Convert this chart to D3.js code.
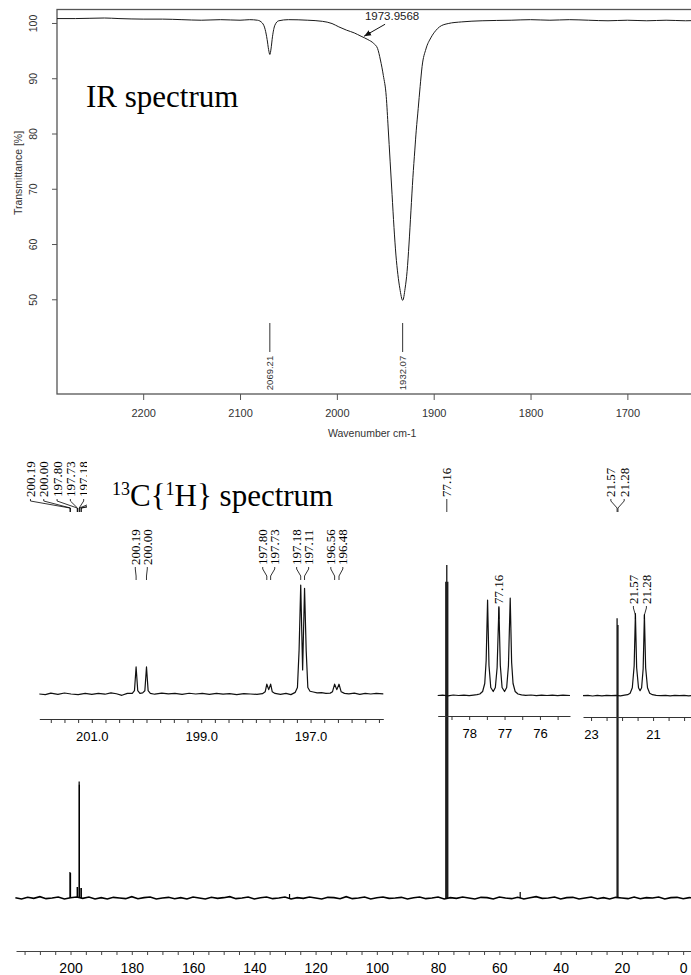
<!DOCTYPE html>
<html>
<head>
<meta charset="utf-8">
<script src="https://cdn.jsdelivr.net/npm/d3@7"></script>
<style>
body { margin: 0; background: #fff; }
svg { display: block; }
.serif { font-family: 'Liberation Serif', 'Times New Roman', serif; }
.sans { font-family: 'Liberation Sans', Arial, sans-serif; }
</style>
</head>
<body>
<svg id="chart" width="691" height="975"></svg>
<script>
// ---- IR data: [wavenumber, transmittance %] ----
let irPoints = [
    [2289, 100.8], [2270, 100.8], [2240, 100.9], [2225, 100.8], [2200, 100.7],
    [2180, 100.7], [2160, 100.6], [2140, 100.5], [2120, 100.6], [2100, 100.5],
    [2090, 100.6], [2082, 100.5], [2077, 100.0], [2074, 98.8], [2072, 97.0],
    [2070.5, 95.2], [2069.2, 94.3], [2068, 95.3], [2066.5, 97.5], [2064, 99.6],
    [2060, 100.4], [2050, 100.6], [2030, 100.5], [2015, 100.3], [2005, 99.9],
    [1998, 99.3], [1990, 98.7], [1982, 98.2], [1975, 97.6], [1968, 97.0],
    [1962, 96.3], [1958, 95.4], [1955, 93.3], [1952, 90.5], [1949, 86.7],
    [1947, 81], [1945, 75], [1943, 69], [1941, 63], [1939, 58],
    [1937, 54.5], [1935, 52], [1932, 49.8], [1929.5, 52], [1927.5, 55],
    [1925.5, 60], [1923.5, 66], [1921.5, 72], [1919.5, 77], [1918, 80.6],
    [1916, 84.5], [1914, 88.5], [1912, 92.1], [1908, 95.3], [1903, 97.3],
    [1898, 98.6], [1894, 99.3], [1885, 99.9], [1871, 100.2], [1850, 100.4],
    [1820, 100.5], [1800, 100.6], [1780, 100.5], [1760, 100.6], [1740, 100.5],
    [1720, 100.4], [1700, 100.5], [1680, 100.4], [1660, 100.5], [1640, 100.4],
    [1625, 100.5]
];
let irTicksX = [2200, 2100, 2000, 1900, 1800, 1700];
let irTicksY = [100, 90, 80, 70, 60, 50];
let irPeakLabels = [2069.21, 1932.07];
let irShoulder = [1973.9568, 97.6];

// ---- 13C main spectrum ----
let mainNoiseStart = 218;
let mainNoiseStep = 2;
let mainNoise = [
    0.1, -0.3, 0.2, -0.1, 0.4, -0.2, 0.0, 0.3, -0.3, 0.1,
    0.3, -0.1, 0.3, -0.3, 0.1, -0.3, 0.2, 0.0, -0.2, 0.4,
    -0.2, 0.1, 0.3, -0.3, 0.0, 0.2, -0.2, 0.1, -0.3, 0.3,
    0.0, -0.3, 0.2, -0.1, 0.1, 0.4, -0.2, 0.0, 0.3, -0.3,
    0.1, 0.3, -0.2, 0.0, 0.3, -0.3, 0.1, -0.1, 0.3, 0.0,
    -0.3, 0.2, 0.1, -0.2, 0.4, -0.2, 0.0, 0.3, -0.3, 0.1,
    0.3, -0.1, 0.0, 0.2, -0.3, 0.1, 0.3, -0.2, 0.0, 0.3,
    -0.3, 0.1, -0.1, 0.3, 0.0, -0.3, 0.2, 0.1, -0.3, 0.3,
    0.0, -0.2, 0.2, -0.3, 0.1, 0.4, -0.1, 0.0, 0.3, -0.3,
    0.1, 0.2, -0.3, 0.0, 0.3, -0.2, 0.1, -0.3, 0.2, 0.0,
    -0.2, 0.3, -0.2, 0.1, 0.0, 0.3, -0.3, 0.1, 0.2, -0.2,
    0.1, 0.0
];
// [ppm, intensity] sticks
let mainPeaks = [
    [200.19, 7.8], [200.00, 7.5], [197.80, 3.3], [197.73, 3.3],
    [197.18, 35], [197.11, 34], [196.56, 3], [196.48, 3],
    [128.5, 1.2], [77.48, 95], [77.16, 100], [76.84, 95],
    [53.2, 1.8], [21.57, 84], [21.28, 82]
];
let mainTickLabels = [200, 180, 160, 140, 120, 100, 80, 60, 40, 20, 0];
let mainLabelsLeft = [200.19, 200.00, 197.80, 197.73, 197.18, 197.11, 196.56, 196.48];
let mainLabelsMid = [77.16];
let mainLabelsRight = [21.57, 21.28];

// ---- inset 1 (carbonyl region) ----
let inset1Points = [
    [201.96, 0], [201.85, -0.5], [201.75, 0.8], [201.62, -0.3], [201.5, 0.9],
    [201.38, 0], [201.25, -0.6], [201.12, 0.5], [201.0, -0.4], [200.88, 0.6],
    [200.76, -0.2], [200.65, 1.0], [200.55, 0.2], [200.45, -1.2], [200.35, 0.6],
    [200.26, 0.5], [200.22, 3], [200.19, 24.8], [200.16, 3], [200.12, 0.6],
    [200.07, 1], [200.03, 3], [200.0, 24.8], [199.97, 3], [199.93, 0.5],
    [199.85, -0.2], [199.72, 0.8], [199.6, 0.2], [199.48, 0.6], [199.35, -0.3],
    [199.22, 0.7], [199.1, 0], [198.98, 0.5], [198.85, -0.4], [198.72, 0.6],
    [198.6, -0.2], [198.48, 0.3], [198.35, -0.5], [198.22, 0.4], [198.1, 0],
    [197.98, -0.3], [197.88, 0.3], [197.83, 2], [197.8, 9], [197.765, 4],
    [197.73, 9], [197.7, 2], [197.65, 0.5], [197.55, -0.3], [197.45, 0.6],
    [197.36, -0.6], [197.28, 1.5], [197.24, 6], [197.21, 40], [197.18, 100],
    [197.145, 22], [197.11, 97], [197.08, 40], [197.05, 6], [197.01, 2.5],
    [196.95, 1.8], [196.88, 1.0], [196.8, 1.3], [196.72, 0.6], [196.64, 0.8],
    [196.6, 2], [196.56, 9], [196.52, 4], [196.48, 9], [196.44, 2],
    [196.38, 0.6], [196.3, 0.2], [196.2, 0.8], [196.1, -0.3], [196.0, 0.6],
    [195.9, 0], [195.8, 0.5], [195.67, 0.2]
];
let inset1TickLabels = [201, 199, 197];
let inset1Labels = [200.19, 200.00, 197.80, 197.73, 197.18, 197.11, 196.56, 196.48];

// ---- inset 2 (CDCl3) ----
let inset2Points = [
    [78.89, 0], [78.75, 0.4], [78.6, -0.3], [78.45, 0.5], [78.3, 0],
    [78.15, 0.3], [78.0, -0.2], [77.88, 0.4], [77.78, 0.8], [77.7, 1.5],
    [77.62, 4], [77.56, 12], [77.52, 35], [77.48, 95.5], [77.44, 30],
    [77.39, 8], [77.32, 4], [77.26, 8], [77.21, 28], [77.16, 88],
    [77.12, 30], [77.07, 8], [77.0, 4], [76.94, 8], [76.89, 30],
    [76.84, 97.5], [76.8, 33], [76.76, 12], [76.7, 4], [76.62, 1.5],
    [76.52, 0.6], [76.4, 0.2], [76.25, 0.5], [76.1, -0.2], [75.95, 0.4],
    [75.8, 0], [75.65, 0.3], [75.5, -0.2], [75.35, 0.3], [75.15, 0]
];
let inset2TickLabels = [78, 77, 76];
let inset2Labels = [77.16];

// ---- inset 3 (methyl region) ----
let inset3Points = [
    [23.26, 0], [23.1, 0.4], [22.95, -0.3], [22.8, 0.3], [22.65, -0.2],
    [22.5, 0.4], [22.35, 0], [22.2, 0.3], [22.05, -0.2], [21.92, 0.5],
    [21.82, 1], [21.74, 2.5], [21.67, 8], [21.61, 30], [21.57, 82],
    [21.53, 28], [21.47, 8], [21.42, 5], [21.37, 8], [21.32, 27],
    [21.28, 81], [21.24, 28], [21.18, 8], [21.11, 2.5], [21.02, 1],
    [20.9, 0.4], [20.75, 0], [20.6, 0.3], [20.45, -0.2], [20.3, 0.3],
    [20.15, 0], [20.0, 0.3], [19.85, -0.2], [19.7, 0.2]
];
let inset3TickLabels = [23, 21];
let inset3Labels = [21.57, 21.28];

let svg = d3.select('#chart');
let fmt2 = d3.format('.2f');

// ================= IR panel =================
let xIR = d3.scaleLinear().domain([2289, 1625]).range([57, 700]);
let yIR = d3.scaleLinear().domain([32.86, 102.44]).range([394, 9.5]);

let ir = svg.append('g').attr('class', 'sans');

ir.append('rect')
    .attr('x', xIR.range()[0])
    .attr('y', yIR.range()[1])
    .attr('width', xIR.range()[1] - xIR.range()[0])
    .attr('height', yIR.range()[0] - yIR.range()[1])
    .attr('fill', 'none')
    .attr('stroke', '#555')
    .attr('stroke-width', 1.3);

let irXAxis = ir.append('g')
    .attr('transform', 'translate(0,' + yIR.range()[0] + ')')
    .call(d3.axisBottom(xIR).tickValues(irTicksX).tickFormat(d => d)
        .tickSize(6).tickPadding(9).tickSizeOuter(0));
irXAxis.select('.domain').remove();
irXAxis.selectAll('line').attr('stroke', '#555');
irXAxis.selectAll('text').attr('font-size', 11).attr('fill', '#333')
    .attr('font-family', "'Liberation Sans', Arial, sans-serif");

let irYAxis = ir.append('g')
    .attr('transform', 'translate(' + xIR.range()[0] + ',0)')
    .call(d3.axisLeft(yIR).tickValues(irTicksY).tickSize(5).tickSizeOuter(0));
irYAxis.select('.domain').remove();
irYAxis.selectAll('line').attr('stroke', '#555');
irYAxis.selectAll('text')
    .attr('x', null)
    .attr('dy', '0.35em')
    .attr('text-anchor', 'middle')
    .attr('transform', 'translate(-24,0) rotate(-90)')
    .attr('font-size', 10.5)
    .attr('fill', '#333')
    .attr('font-family', "'Liberation Sans', Arial, sans-serif");

ir.append('text')
    .attr('transform', 'translate(18,173) rotate(-90)')
    .attr('text-anchor', 'middle')
    .attr('dy', '0.35em')
    .attr('font-size', 10.5)
    .attr('fill', '#333')
    .text('Transmittance [%]');

ir.append('text')
    .attr('x', 328)
    .attr('y', 437)
    .attr('font-size', 10.5)
    .attr('fill', '#333')
    .text('Wavenumber cm-1');

ir.append('path')
    .datum(irPoints)
    .attr('fill', 'none')
    .attr('stroke', '#1a1a1a')
    .attr('stroke-width', 1)
    .attr('d', d3.line()
        .x(d => xIR(d[0]))
        .y(d => yIR(d[1]))
        .curve(d3.curveMonotoneX));

// peak pick markers
irPeakLabels.forEach(p => {
    ir.append('line')
        .attr('x1', xIR(p)).attr('x2', xIR(p))
        .attr('y1', 323).attr('y2', 352)
        .attr('stroke', '#333');
    ir.append('text')
        .attr('transform', 'translate(' + xIR(p) + ',373) rotate(-90)')
        .attr('text-anchor', 'middle')
        .attr('dy', '0.35em')
        .attr('font-size', 9.5)
        .attr('fill', '#333')
        .text(fmt2(p));
});

// shoulder annotation with arrow
svg.append('defs').append('marker')
    .attr('id', 'arrow')
    .attr('viewBox', '0 0 10 10')
    .attr('refX', 10).attr('refY', 5)
    .attr('markerWidth', 7).attr('markerHeight', 7)
    .attr('orient', 'auto')
    .append('path').attr('d', 'M0,1L10,5L0,9z').attr('fill', '#111');

let tipX = xIR(irShoulder[0]) + 2;
let tipY = yIR(irShoulder[1]);
ir.append('line')
    .attr('x1', tipX + 21).attr('y1', tipY - 12)
    .attr('x2', tipX).attr('y2', tipY)
    .attr('stroke', '#111')
    .attr('marker-end', 'url(#arrow)');
ir.append('text')
    .attr('x', tipX + 28)
    .attr('y', tipY - 20)
    .attr('dy', '0.35em')
    .attr('text-anchor', 'middle')
    .attr('font-size', 11.5)
    .attr('fill', '#222')
    .text(irShoulder[0].toFixed(4));

svg.append('text')
    .attr('class', 'serif')
    .attr('x', 86)
    .attr('y', 107)
    .attr('font-size', 31)
    .text('IR spectrum');

// ================= 13C panel =================
let xMain = d3.scaleLinear().domain([217.8, -5.5]).range([16, 700]);
let yMain = d3.scaleLinear().domain([0, 100]).range([898, 565]);

let nmr = svg.append('g');

let mainLine = mainNoise.map((v, i) => [mainNoiseStart - i * mainNoiseStep, v]);
nmr.append('path')
    .datum(mainLine)
    .attr('fill', 'none')
    .attr('stroke', '#000')
    .attr('stroke-width', 1.6)
    .attr('d', d3.line().x(d => xMain(d[0])).y(d => yMain(d[1])));

nmr.selectAll('.stick')
    .data(mainPeaks)
    .enter()
    .append('line')
    .attr('class', 'stick')
    .attr('x1', d => xMain(d[0])).attr('x2', d => xMain(d[0]))
    .attr('y1', yMain(0)).attr('y2', d => yMain(d[1]))
    .attr('stroke', '#000')
    .attr('stroke-width', 1.2);

let mainAxis = nmr.append('g')
    .attr('class', 'sans')
    .attr('transform', 'translate(0,951)')
    .call(d3.axisBottom(xMain)
        .tickValues(d3.range(215, -1, -5))
        .tickFormat(d => mainTickLabels.includes(d) ? d : '')
        .tickSize(4).tickPadding(8).tickSizeOuter(0));
mainAxis.select('.domain').attr('stroke', '#444');
mainAxis.selectAll('line').attr('stroke', '#444');
mainAxis.selectAll('text').attr('font-size', 14).attr('fill', '#000')
    .attr('font-family', "'Liberation Sans', Arial, sans-serif");

// label spreading like the NMR software does
function spreadLabels(xs, gap) {
    let groups = xs.map(x => ({ xs: [x], start: x }));
    let changed = true;
    while (changed) {
        changed = false;
        for (let i = 0; i < groups.length - 1; i++) {
            let a = groups[i], b = groups[i + 1];
            if (a.start + a.xs.length * gap > b.start) {
                let all = a.xs.concat(b.xs);
                groups.splice(i, 2, { xs: all, start: d3.mean(all) - (all.length - 1) * gap / 2 });
                changed = true;
                break;
            }
        }
    }
    let out = [];
    groups.forEach(g => g.xs.forEach((x, k) => out.push(g.start + k * gap)));
    return out;
}

function drawLabels(g, ppms, x, gap, yBottom) {
    let px = ppms.map(p => x(p));
    let lx = spreadLabels(px, gap);
    ppms.forEach((p, i) => {
        g.append('text')
            .attr('class', 'serif')
            .attr('transform', 'translate(' + lx[i] + ',' + yBottom + ') rotate(-90)')
            .attr('dy', '0.35em')
            .attr('font-size', 13)
            .text(fmt2(p));
        g.append('path')
            .attr('d', 'M' + lx[i] + ',' + (yBottom + 2) + 'V' + (yBottom + 4) +
                'L' + px[i] + ',' + (yBottom + 11) + 'V' + (yBottom + 15))
            .attr('fill', 'none')
            .attr('stroke', '#000')
            .attr('stroke-width', 0.8);
    });
}

svg.select('defs').append('clipPath').attr('id', 'leftclip')
    .append('rect').attr('x', 0).attr('y', 430).attr('width', 87).attr('height', 100);

let leftLab = nmr.append('g').attr('clip-path', 'url(#leftclip)');
drawLabels(leftLab, mainLabelsLeft, xMain, 13.3, 497);
drawLabels(nmr.append('g'), mainLabelsMid, xMain, 13.3, 497);
drawLabels(nmr.append('g'), mainLabelsRight, xMain, 13.3, 497);

let title = svg.append('text')
    .attr('class', 'serif')
    .attr('x', 112)
    .attr('y', 506)
    .attr('font-size', 31);
title.append('tspan').attr('font-size', 18).attr('dy', -11).text('13');
title.append('tspan').attr('dy', 11).text('C{');
title.append('tspan').attr('font-size', 18).attr('dy', -11).text('1');
title.append('tspan').attr('dy', 11).text('H} spectrum');

// ---- insets ----
function drawInset(points, domain, range, yRange, axisY, ticks, tickLabels, tickFmt, labels, gap) {
    let x = d3.scaleLinear().domain(domain).range(range);
    let y = d3.scaleLinear().domain([0, 100]).range(yRange);
    let g = svg.append('g');
    g.append('path')
        .datum(points)
        .attr('fill', 'none')
        .attr('stroke', '#111')
        .attr('stroke-width', 1.2)
        .attr('stroke-linejoin', 'round')
        .attr('d', d3.line().x(d => x(d[0])).y(d => y(d[1])));
    let ax = g.append('g')
        .attr('class', 'sans')
        .attr('transform', 'translate(0,' + axisY + ')')
        .call(d3.axisBottom(x)
            .tickValues(ticks)
            .tickFormat(d => tickLabels.includes(d) ? tickFmt(d) : '')
            .tickSize(4).tickPadding(9).tickSizeOuter(0));
    ax.select('.domain').attr('stroke', '#333');
    ax.selectAll('line').attr('stroke', '#333');
    ax.selectAll('text').attr('font-size', 13).attr('fill', '#000')
        .attr('font-family', "'Liberation Sans', Arial, sans-serif");
    drawLabels(g, labels, x, gap, labels === inset1Labels ? 565 : 604);
}

drawInset(inset1Points, [201.96, 195.67], [39.3, 383.3], [694, 585], 719,
    d3.range(201.75, 195.7, -0.25), inset1TickLabels, d3.format('.1f'), inset1Labels, 12);
drawInset(inset2Points, [78.89, 75.15], [437.7, 570], [695.5, 595.5], 716,
    d3.range(78.5, 75.1, -0.5), inset2TickLabels, d => d, inset2Labels, 12);
drawInset(inset3Points, [23.26, 19.6], [583, 696.5], [695.7, 595.7], 717,
    d3.range(23, 19.6, -0.5), inset3TickLabels, d => d, inset3Labels, 13);
</script>
</body>
</html>
